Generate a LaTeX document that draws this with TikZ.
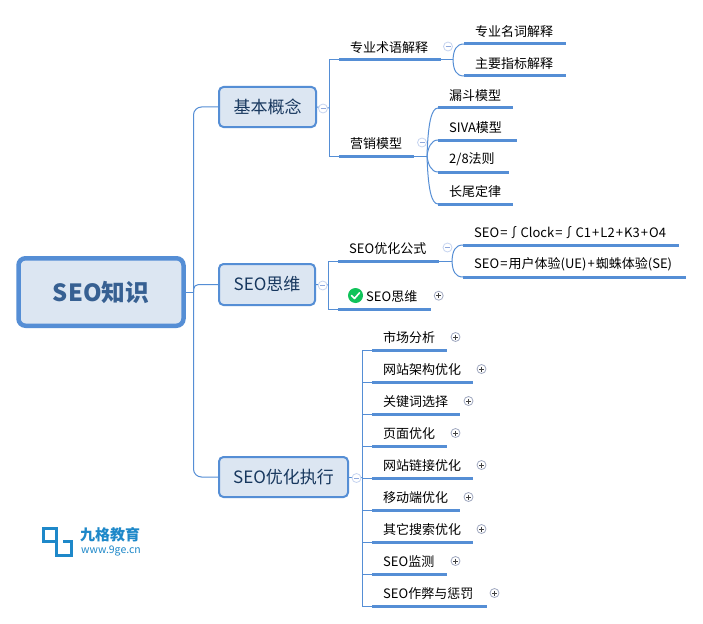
\documentclass[tikz,border=0pt]{standalone}
\usepackage{fontspec}
\setmainfont{Noto Sans CJK SC}
\definecolor{lineblue}{HTML}{558ED5}
\definecolor{boxblue}{HTML}{558ED5}
\definecolor{boxfill}{HTML}{DCE6F2}
\definecolor{roottext}{HTML}{376092}
\definecolor{maintext}{HTML}{17375E}
\definecolor{collapsering}{HTML}{C6D4F0}
\definecolor{collapseminus}{HTML}{8FA8DC}
\definecolor{expandring}{HTML}{A0A8C0}
\definecolor{logoblue}{HTML}{1E88C9}
\definecolor{checkgreen}{HTML}{10C35A}
\tikzset{
  x=1pt,y=-1pt,
  wire/.style={draw=lineblue,line width=1pt},
  mainbox/.style={draw=boxblue,fill=boxfill,line width=2pt,outer sep=0pt,rounded corners=4.5pt,inner sep=0pt,text=maintext,font=\fontsize{17}{19}\selectfont,anchor=north west},
  rootbox/.style={draw=boxblue,fill=boxfill,line width=4.5pt,outer sep=0pt,rounded corners=7pt,inner sep=0pt,text=roottext,font=\fontsize{23.7}{26}\selectfont\bfseries},
  topictext/.style={inner sep=0pt,anchor=west,text=black,font=\fontsize{13}{15}\selectfont},
  bar/.style={draw=boxblue,line width=3pt},
  collapse/.style={circle,draw=collapsering,fill=white,line width=.8pt,minimum size=9pt,inner sep=0pt,
    path picture={\draw[collapseminus,line width=.8pt] (path picture bounding box.center) ++(-2.5,0) -- ++(5,0);}},
  expand/.style={circle,draw=expandring,fill=white,line width=.8pt,minimum size=9pt,inner sep=0pt,
    path picture={\draw[black!75,line width=.8pt] (path picture bounding box.center) ++(-2.5,0) -- ++(5,0) ++(-2.5,-2.5) -- ++(0,5);}},
}
% \topic{name}{x start}{x end}{bar y}{text x}{text}
\newcommand{\topic}[6]{%
  \coordinate (#1w) at (#2,#4);
  \coordinate (#1e) at (#3,#4);
  \node[topictext] (#1) at (#5,#4-12.5) {#6};
}
\newcommand{\eqk}{\kern1.1pt}
\begin{document}
\begin{tikzpicture}
\useasboundingbox (0,0) rectangle (703,623);
\fill[white] (0,0) rectangle (703,623);

% main nodes
\node[rootbox,minimum width=165pt,minimum height=67.5pt] (root) at (101,292) {SEO知识};
\node[mainbox,minimum width=97pt,minimum height=40pt] (basic) at (219,87) {基本概念};
\node[mainbox,minimum width=96pt,minimum height=41pt] (think) at (219,264) {SEO思维};
\node[mainbox,minimum width=129pt,minimum height=40pt] (exec) at (219,457) {SEO优化执行};

% topics
\topic{term}{339}{441}{60}{350}{专业术语解释}
\topic{mkt}{339}{414}{156}{350}{营销模型}
\topic{noun}{464}{566}{44}{475}{专业名词解释}
\topic{index}{464}{566}{76}{475}{主要指标解释}
\topic{funnel}{438}{513}{108}{449}{漏斗模型}
\topic{siva}{438}{517}{140}{449}{SIVA模型}
\topic{rule}{438}{509}{172}{449}{2/8法则}
\topic{tail}{438}{513}{204}{449}{长尾定律}
\topic{formula}{338}{439}{261}{349}{SEO优化公式}
\topic{seothink}{338}{431}{309}{366}{SEO思维}
\topic{fa}{463}{679}{245}{474}{SEO\eqk=∫Clock\eqk=∫C1\eqk+\eqk L2\eqk+\eqk K3\eqk+\eqk O4}
\topic{fb}{463}{686}{277}{474}{SEO\eqk=\eqk 用户体验(UE)\eqk+\eqk 蜘蛛体验(SE)}
\topic{e1}{372}{447}{350}{383}{市场分析}
\topic{e2}{372}{473}{382}{383}{网站架构优化}
\topic{e3}{372}{460}{414}{383}{关键词选择}
\topic{e4}{372}{447}{446}{383}{页面优化}
\topic{e5}{372}{473}{478}{383}{网站链接优化}
\topic{e6}{372}{460}{510}{383}{移动端优化}
\topic{e7}{372}{473}{542}{383}{其它搜索优化}
\topic{e8}{372}{447}{574}{383}{SEO监测}
\topic{e9}{372}{487}{606}{383}{SEO作弊与惩罚}

% root to main topics
\coordinate (trunk) at (193.5,292);
\draw[wire] (root.east) -- (trunk);
\draw[wire,rounded corners=8pt] (basic.west) -| (trunk);
\draw[wire,rounded corners=8pt] (exec.west) -| (trunk);
\draw[wire,rounded corners=5pt] (think.west) -| (trunk);

% brackets
\coordinate (btrunk) at (329,108);
\draw[wire] (basic.east) -- (btrunk);
\draw[wire] (termw) -| (btrunk |- mktw) -- (mktw);
\coordinate (ttrunk) at (328,285);
\draw[wire] (think.east) -- (ttrunk);
\draw[wire] (formulaw) -| (ttrunk |- seothinkw) -- (seothinkw);
\coordinate (etrunk) at (362,477);
\draw[wire] (exec.east) -- (etrunk);
\draw[wire] (e1w) -| (etrunk |- e9w) -- (e9w);
\foreach \n in {e2,e3,e4,e5,e6,e7,e8} \draw[wire] (etrunk |- \n w) -- (\n w);

% fan-outs
\coordinate (tj) at (453,60);
\draw[wire] (terme) -- (tj);
\draw[wire] (tj) .. controls (453.5,50) and (456,44) .. (nounw);
\draw[wire] (tj) .. controls (453.5,70) and (456,76) .. (indexw);
\coordinate (mj) at (427,156);
\draw[wire] (mkte) -- (mj);
\draw[wire] (mj) .. controls (428,125) and (431,108) .. (funnelw);
\draw[wire] (mj) .. controls (428,148) and (431,140) .. (sivaw);
\draw[wire] (mj) .. controls (428,164) and (431,172) .. (rulew);
\draw[wire] (mj) .. controls (428,187) and (431,204) .. (tailw);
\coordinate (fj) at (452,261);
\draw[wire] (formulae) -- (fj);
\draw[wire] (fj) .. controls (452.5,251) and (455,245) .. (faw);
\draw[wire] (fj) .. controls (452.5,271) and (455,277) .. (fbw);

% thick bars under the topics
\foreach \n in {term,mkt,noun,index,funnel,siva,rule,tail,formula,seothink,fa,fb,e1,e2,e3,e4,e5,e6,e7,e8,e9}
  \draw[bar] (\n w) -- (\n e);

% collapse and expand marks
\node[collapse] (cbasic) at (323,108.5) {};
\node[collapse] (cthink) at (322.7,285.5) {};
\node[collapse] (cexec) at (356.5,478) {};
\node[collapse] (cterm) at (448,46.5) {};
\node[collapse] (cmkt) at (422,142.5) {};
\node[collapse] (cform) at (447.5,247.5) {};
\node[expand] (xthink) at (438.7,295.7) {};
\node[expand] (x1) at (455.5,337) {};
\node[expand] (x2) at (481.5,369) {};
\node[expand] (x3) at (468.5,401) {};
\node[expand] (x4) at (455.5,433) {};
\node[expand] (x5) at (481.5,465) {};
\node[expand] (x6) at (468.5,497) {};
\node[expand] (x7) at (481.5,529) {};
\node[expand] (x8) at (455.5,561) {};
\node[expand] (x9) at (494.5,593) {};

% green check icon
\node[circle,fill=checkgreen,minimum size=15pt,inner sep=0pt] (check) at (355.5,295.5) {};
\draw[white,line width=1.6pt,line cap=round,line join=round] (351.5,295.5) -- (354.5,298.5) -- (359.5,292.8);

% logo
\draw[logoblue,line width=3pt,line join=miter] (43.5,528.5) rectangle (56.5,541.5);
\draw[logoblue,line width=3pt,line join=miter] (56.5,541.5) -- (56.5,555.5) -- (71,555.5) -- (71,541.5) -- (63,541.5);
\node[inner sep=0pt,anchor=west,text=logoblue,font=\fontsize{15}{17}\selectfont\bfseries] (brand) at (80,535) {九格教育};
\node[inner sep=0pt,anchor=west,text=logoblue,font=\fontsize{10.5}{12}\selectfont] (site) at (81,551) {www.9ge.cn};
\end{tikzpicture}
\end{document}
